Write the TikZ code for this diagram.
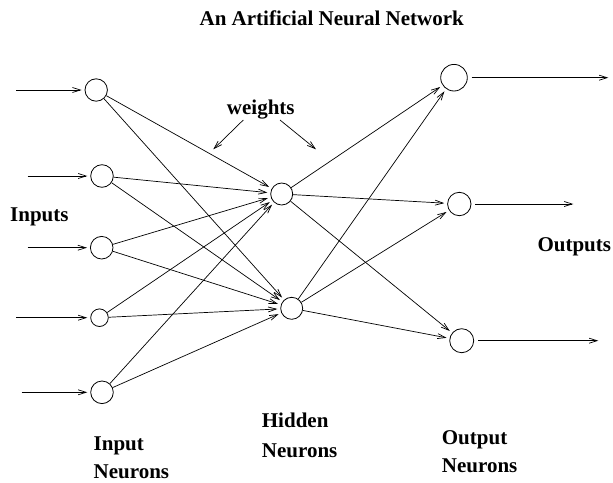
\documentclass[tikz,border=0pt]{standalone}
\usepackage{fontspec}
\setmainfont{Liberation Serif}
\usetikzlibrary{arrows.meta}
\begin{document}
\begin{tikzpicture}[x=1pt,y=-1pt,
  neuron/.style={circle,draw,line width=0.8pt,inner sep=0pt,minimum size=#1},
  neuron/.default=22pt,
  conn/.style={line width=0.7pt,-{Straight Barb[length=8pt,width=5pt]},shorten >=3pt},
  lbl/.style={anchor=base west,inner sep=0pt,font=\fontsize{21}{25}\selectfont\bfseries}]
\useasboundingbox (0,0) rectangle (613,482);
% input neurons
\node[neuron=22.4pt] (i1) at (96.2,90) {};
\node[neuron=22.6pt] (i2) at (102,176) {};
\node[neuron=22.6pt] (i3) at (101.7,247.7) {};
\node[neuron=17.6pt] (i4) at (99.5,317.7) {};
\node[neuron=22.6pt] (i5) at (102,392.3) {};
% hidden
\node[neuron=22pt] (h1) at (281.7,194) {};
\node[neuron=22pt] (h2) at (291.7,308.3) {};
% outputs
\node[neuron=26.6pt] (o1) at (454,77.7) {};
\node[neuron=23.4pt] (o2) at (459.3,204) {};
\node[neuron=24pt] (o3) at (461.7,340.7) {};
% input arrows
\coordinate (s1) at (16,90);
\coordinate (s2) at (27.7,176);
\coordinate (s3) at (27.7,247.7);
\coordinate (s4) at (16,317.7);
\coordinate (s5) at (21.7,392.3);
\foreach \k in {1,...,5}{\draw[conn] (s\k) -- (i\k);}
% input to hidden
\foreach \k in {1,...,5}{\draw[conn] (i\k) -- (h1); \draw[conn] (i\k) -- (h2);}
% hidden to output
\foreach \h in {1,2}{\foreach \o in {1,2,3}{\draw[conn] (h\h) -- (o\o);}}
% output arrows
\coordinate (e1) at (608.3,77.7);
\coordinate (e2) at (573.3,204);
\coordinate (e3) at (598.3,340.7);
\foreach \k in {1,2,3}{\draw[conn,shorten >=0pt,shorten <=4pt] (o\k) -- (e\k);}
% weights
\node[lbl,anchor=base] (w) at (260.8,114) {weights};
\coordinate (wa1) at (243.3,120);
\coordinate (wb1) at (213.3,149.3);
\coordinate (wa2) at (280,120);
\coordinate (wb2) at (316,149.3);
\draw[conn,shorten >=0pt] (wa1) -- (wb1);
\draw[conn,shorten >=0pt] (wa2) -- (wb2);
% labels
\node[lbl,anchor=base] (title) at (331.7,25) {An Artificial Neural Network};
\node[lbl] (inputs) at (10,221.7) {Inputs};
\node[lbl] (outputs) at (537.3,251.7) {Outputs};
\node[lbl] (inl1) at (93.5,450) {Input};
\node[lbl] (inl2) at (93.5,478) {Neurons};
\node[lbl] (hl1) at (261.7,427) {Hidden};
\node[lbl] (hl2) at (261.7,457) {Neurons};
\node[lbl] (ol1) at (441.7,444.4) {Output};
\node[lbl] (ol2) at (441.7,472.7) {Neurons};
\end{tikzpicture}
\end{document}
